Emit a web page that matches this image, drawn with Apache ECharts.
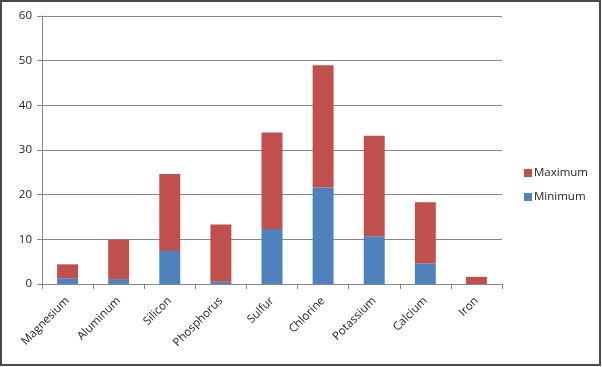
<!DOCTYPE html>
<html><head><meta charset="utf-8">
<script src="https://cdn.jsdelivr.net/npm/echarts@6/dist/echarts.min.js"></script>
<style>html,body{margin:0;padding:0;background:#fff}#c{width:602px;height:367px}</style>
</head><body><div id="c"></div>
<script>
const categories = ["Magnesium","Aluminum","Silicon","Phosphorus","Sulfur","Chlorine","Potassium","Calcium","Iron"];
const minimum = [1.3, 1.1, 7.4, 0.5, 12.3, 21.6, 10.7, 4.6, 0];
const maximum = [3.1, 8.8, 17.2, 12.8, 21.6, 27.4, 22.5, 13.7, 1.6];
const yTicks = [0, 10, 20, 30, 40, 50, 60];

const chart = echarts.init(document.getElementById('c'), null, {renderer: 'canvas'});
const font = '"Open Sans", "Liberation Sans", sans-serif';
chart.setOption({
  animation: false,
  backgroundColor: '#fff',
  graphic: [{type: 'rect', shape: {x: 1, y: 1, width: 599, height: 364}, style: {fill: 'none', stroke: '#4a4a4a', lineWidth: 2}}],
  grid: {left: 42, right: 100, top: 16, bottom: 83},
  legend: {
    orient: 'vertical', left: 519, top: 161, itemWidth: 8, itemHeight: 8, itemGap: 10,
    data: ['Maximum', 'Minimum'], icon: 'rect',
    textStyle: {fontFamily: font, fontSize: 11.5, color: '#222', lineHeight: 14, padding: [0, 0, 0, -3]}
  },
  xAxis: {
    type: 'category', data: categories,
    axisLine: {lineStyle: {color: '#868686', width: 1}},
    axisTick: {show: true, length: 5, lineStyle: {color: '#868686'}},
    axisLabel: {rotate: 45, margin: 15, fontFamily: font, fontSize: 11.5, color: '#222', interval: 0}
  },
  yAxis: {
    type: 'value', min: yTicks[0], max: yTicks[yTicks.length - 1], interval: 10,
    axisLine: {show: true, lineStyle: {color: '#868686'}},
    axisTick: {show: true, length: 5, lineStyle: {color: '#868686'}},
    splitLine: {lineStyle: {color: '#868686', width: 1}},
    axisLabel: {fontFamily: font, fontSize: 11.5, color: '#222', margin: 10}
  },
  series: [
    {name: 'Minimum', type: 'bar', stack: 'a', data: minimum, barCategoryGap: '59%', itemStyle: {color: '#4F81BD'}},
    {name: 'Maximum', type: 'bar', stack: 'a', data: maximum, barCategoryGap: '59%', itemStyle: {color: '#C0504D'}}
  ]
});
</script></body></html>
